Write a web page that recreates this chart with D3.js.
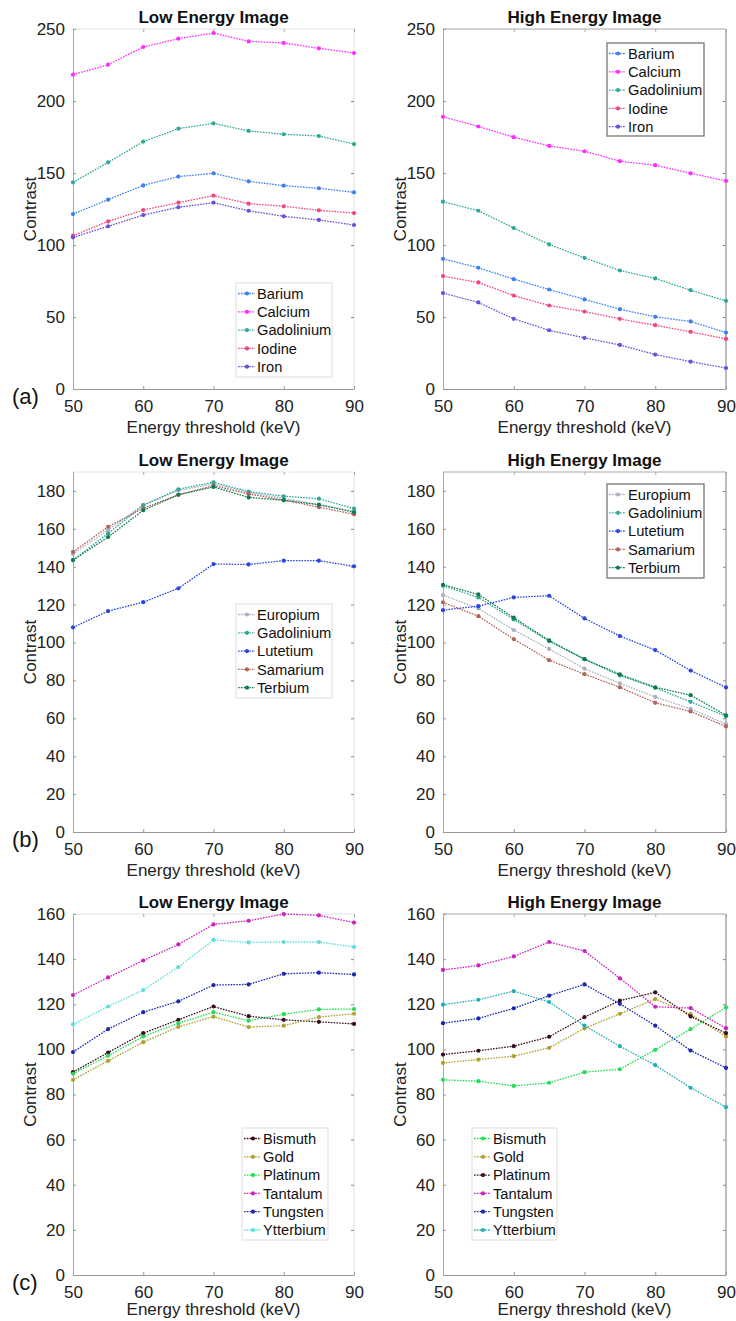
<!DOCTYPE html>
<html>
<head>
<meta charset="utf-8">
<script src="https://cdn.jsdelivr.net/npm/d3@7"></script>
<style>
  body { margin: 0; background: #fff; }
  svg { font-family: "Liberation Sans", Arial, sans-serif; }
  .tick text { font-size: 17px; fill: #222; }
  .title { font-size: 17px; font-weight: bold; fill: #111; }
  .axis-label { font-size: 17px; fill: #222; }
  .legend-label { font-size: 14.7px; fill: #111; }
  .panel-tag { font-size: 22px; fill: #111; }
</style>
</head>
<body>
<div id="chart"></div>
<script>
// Energy thresholds shared by every panel (keV)
const energies = [50, 55, 60, 65, 70, 75, 80, 85, 90];

// (a) contrast agents
const seriesA = ['Barium', 'Calcium', 'Gadolinium', 'Iodine', 'Iron'];
const aLowValues = [
  [121.5, 131.5, 141.4, 147.5, 149.8, 144.2, 141.2, 139.4, 136.6],
  [218.3, 225.2, 237.5, 243.3, 247.2, 241.4, 240.3, 236.6, 233.3],
  [143.5, 157.4, 171.8, 180.8, 184.5, 179.2, 176.9, 175.7, 170.1],
  [106.5, 116.4, 124.3, 129.4, 134.3, 128.7, 126.9, 124.1, 122.2],
  [105.3, 113.0, 120.8, 126.2, 129.4, 123.8, 119.9, 117.4, 113.9]
];
const aHighValues = [
  [90.4, 84.2, 76.3, 69.1, 62.2, 55.4, 50.1, 46.9, 39.2],
  [189.0, 182.3, 174.9, 168.8, 165.1, 158.2, 155.4, 149.8, 144.5],
  [130.1, 123.8, 111.8, 100.4, 91.1, 82.3, 76.8, 68.6, 61.2],
  [78.4, 74.0, 64.9, 58.0, 53.8, 48.7, 44.3, 39.7, 34.8],
  [66.6, 60.1, 48.7, 40.8, 35.5, 30.6, 23.9, 19.0, 14.6]
];

// (b) lanthanides
const seriesB = ['Europium', 'Gadolinium', 'Lutetium', 'Samarium', 'Terbium'];
const bLowValues = [
  [146.7, 159.4, 172.6, 180.2, 183.7, 179.1, 176.1, 172.6, 169.4],
  [143.5, 157.6, 172.4, 180.9, 184.6, 179.6, 177.2, 175.9, 170.7],
  [108.0, 116.6, 121.3, 128.6, 141.4, 141.2, 143.2, 143.2, 140.2],
  [147.8, 161.1, 170.8, 178.0, 182.8, 178.4, 175.2, 171.4, 167.7],
  [143.5, 155.7, 169.8, 178.0, 182.1, 176.6, 175.1, 172.8, 168.7]
];
const bHighValues = [
  [125.0, 118.0, 106.6, 96.6, 86.2, 78.5, 71.3, 65.0, 56.9],
  [130.0, 123.8, 112.2, 100.7, 91.2, 82.6, 76.1, 68.7, 61.1],
  [117.1, 119.2, 123.8, 124.7, 112.7, 103.4, 96.0, 85.2, 76.3],
  [121.2, 113.9, 101.8, 90.7, 83.3, 76.4, 68.2, 63.6, 55.7],
  [130.5, 125.4, 113.1, 101.1, 91.2, 83.2, 76.4, 72.2, 61.6]
];

// (c) heavy elements
const seriesC = ['Bismuth', 'Gold', 'Platinum', 'Tantalum', 'Tungsten', 'Ytterbium'];
const cLowValues = [
  [89.9, 98.6, 107.2, 113.1, 119.0, 114.7, 113.1, 112.2, 111.3],
  [86.5, 94.9, 103.2, 110.0, 114.5, 109.9, 110.5, 114.3, 115.8],
  [89.2, 97.2, 105.7, 111.6, 116.5, 112.7, 115.6, 117.7, 117.9],
  [124.1, 131.9, 139.4, 146.5, 155.4, 157.0, 160.0, 159.4, 156.2],
  [98.8, 109.0, 116.5, 121.3, 128.5, 128.8, 133.5, 134.0, 133.2],
  [111.1, 119.0, 126.3, 136.5, 148.5, 147.4, 147.6, 147.6, 145.4]
];
const cHighValues = [
  [86.5, 85.9, 83.8, 85.2, 89.9, 91.2, 99.8, 109.0, 118.6],
  [94.0, 95.5, 97.0, 100.7, 109.3, 115.8, 122.3, 115.6, 105.7],
  [97.7, 99.4, 101.4, 105.6, 114.3, 121.6, 125.3, 114.6, 107.2],
  [135.2, 137.2, 141.2, 147.6, 143.6, 131.5, 118.9, 118.3, 109.4],
  [111.6, 113.7, 118.2, 123.8, 128.8, 120.2, 110.5, 99.5, 91.8],
  [119.8, 122.0, 125.8, 121.0, 110.5, 101.4, 93.0, 83.0, 74.4]
];

// line colours, one per series (same order as the names)
const colorsA = ['#3b7ff0', '#ff2bff', '#2fa89a', '#f0477a', '#6a4fd8'];
const colorsB = ['#a9b0c2', '#2fa89a', '#2a45e0', '#b0645a', '#0e7a4e'];
const colorsCLow = ['#3a0d1e', '#b0a030', '#22dd55', '#cc22bb', '#1a2ab0', '#5edede'];
const colorsCHigh = ['#22dd55', '#b0a030', '#3a0d1e', '#cc22bb', '#1a2ab0', '#22b0b8'];

const panels = [
  {title: 'Low Energy Image', x0: 73, x1: 354, y0: 29, y1: 389, yMax: 250, yStep: 50,
   names: seriesA, values: aLowValues, colors: colorsA, legend: {x: 236, y: 283, w: 96, h: 94}, tag: '(a)', side: 'left'},
  {title: 'High Energy Image', x0: 443, x1: 726, y0: 29, y1: 389, yMax: 250, yStep: 50,
   names: seriesA, values: aHighValues, colors: colorsA, legend: {x: 607, y: 43, w: 97, h: 93}, side: 'right'},
  {title: 'Low Energy Image', x0: 73, x1: 354, y0: 472, y1: 832, yMax: 190, yStep: 20,
   names: seriesB, values: bLowValues, colors: colorsB, legend: {x: 236, y: 604, w: 96, h: 94}, tag: '(b)', side: 'left'},
  {title: 'High Energy Image', x0: 443, x1: 726, y0: 472, y1: 832, yMax: 190, yStep: 20,
   names: seriesB, values: bHighValues, colors: colorsB, legend: {x: 607, y: 484, w: 97, h: 94}, side: 'right'},
  {title: 'Low Energy Image', x0: 73, x1: 354, y0: 914, y1: 1275, yMax: 160, yStep: 20,
   names: seriesC, values: cLowValues, colors: colorsCLow, legend: {x: 242, y: 1128, w: 86, h: 112}, tag: '(c)', side: 'left'},
  {title: 'High Energy Image', x0: 443, x1: 726, y0: 914, y1: 1275, yMax: 160, yStep: 20,
   names: seriesC, values: cHighValues, colors: colorsCHigh, legend: {x: 472, y: 1128, w: 85, h: 112}, side: 'right'}
];

const svg = d3.select('#chart').append('svg')
  .attr('width', 736)
  .attr('height', 1321);

panels.forEach(p => drawPanel(p));

function drawPanel(p) {
  const x = d3.scaleLinear().domain([50, 90]).range([p.x0, p.x1]);
  const y = d3.scaleLinear().domain([0, p.yMax]).range([p.y1, p.y0]);
  const yTicks = d3.range(0, p.yMax + 0.1, p.yStep);
  const xTicks = [50, 60, 70, 80, 90];
  const g = svg.append('g');

  // box (MATLAB-like), right column drawn a bit darker as in the scan
  const boxColor = p.side === 'right' ? '#a8a8a8' : '#e2e2e2';
  g.append('line').attr('x1', p.x0).attr('x2', p.x1).attr('y1', p.y0).attr('y2', p.y0)
    .attr('stroke', boxColor);
  g.append('line').attr('x1', p.x1).attr('x2', p.x1).attr('y1', p.y0).attr('y2', p.y1)
    .attr('stroke', boxColor).attr('stroke-width', p.side === 'right' ? 1.5 : 1);

  // mirrored inner ticks on top and right
  g.append('g')
    .attr('transform', `translate(0,${p.y0})`)
    .call(d3.axisBottom(x).tickValues(xTicks).tickSize(3).tickFormat(''))
    .call(s => s.select('.domain').remove())
    .selectAll('line').attr('stroke', '#aaa');
  g.append('g')
    .attr('transform', `translate(${p.x1},0)`)
    .call(d3.axisLeft(y).tickValues(yTicks.filter(v => v > 0 && v < p.yMax)).tickSize(3).tickFormat(''))
    .call(s => s.select('.domain').remove())
    .selectAll('line').attr('stroke', '#888');

  // bottom axis
  const xAxis = g.append('g')
    .attr('transform', `translate(0,${p.y1})`)
    .call(d3.axisBottom(x).tickValues(xTicks).tickSizeInner(-3).tickSizeOuter(0).tickPadding(11));
  xAxis.select('.domain').attr('stroke', '#999');
  xAxis.selectAll('.tick line').attr('stroke', '#999');
  xAxis.selectAll('.tick text').style('font-size', '17px').attr('fill', '#222');

  // left axis
  const yAxis = g.append('g')
    .attr('transform', `translate(${p.x0},0)`)
    .call(d3.axisLeft(y).tickValues(yTicks).tickSizeInner(-3).tickSizeOuter(0).tickPadding(8));
  yAxis.select('.domain').attr('stroke', '#aaa');
  yAxis.selectAll('.tick line').attr('stroke', '#999');
  yAxis.selectAll('.tick text').style('font-size', '17px').attr('fill', '#222');

  // titles and labels
  g.append('text').attr('class', 'title')
    .attr('x', (p.x0 + p.x1) / 2).attr('y', p.y0 - 6)
    .attr('text-anchor', 'middle').text(p.title);

  // bottom row label sits at the very edge of the figure, keep it inside
  g.append('text').attr('class', 'axis-label')
    .attr('x', (p.x0 + p.x1) / 2).attr('y', Math.min(p.y1 + 44, 1315))
    .attr('text-anchor', 'middle').text('Energy threshold (keV)');

  g.append('text').attr('class', 'axis-label')
    .attr('transform', `translate(${p.x0 - 37},${(p.y0 + p.y1) / 2}) rotate(-90)`)
    .attr('text-anchor', 'middle').text('Contrast');

  if (p.tag) {
    g.append('text').attr('class', 'panel-tag')
      .attr('x', 12).attr('y', p.y1 + 15).text(p.tag);
  }

  // series
  const line = d3.line()
    .x((d, i) => x(energies[i]))
    .y(d => y(d));

  const series = g.selectAll('.series')
    .data(p.values)
    .join('g')
    .attr('class', 'series');

  series.append('path')
    .attr('d', d => line(d))
    .attr('fill', 'none')
    .attr('stroke', (d, i) => p.colors[i])
    .attr('stroke-width', 1.3)
    .attr('stroke-dasharray', '1.6,1.2');

  series.each(function(d, i) {
    d3.select(this).selectAll('circle')
      .data(d)
      .join('circle')
      .attr('cx', (v, j) => x(energies[j]))
      .attr('cy', v => y(v))
      .attr('r', 2.1)
      .attr('fill', p.colors[i]);
  });

  // legend
  const lg = g.append('g').attr('transform', `translate(${p.legend.x},${p.legend.y})`);
  lg.append('rect')
    .attr('width', p.legend.w).attr('height', p.legend.h)
    .attr('fill', '#fff')
    .attr('stroke', p.side === 'right' && p.names.length < 6 ? '#777' : '#ddd')
    .attr('stroke-width', p.side === 'right' && p.names.length < 6 ? 1.3 : 1);

  const rowH = 18.3;
  const entries = lg.selectAll('.entry')
    .data(p.names)
    .join('g')
    .attr('class', 'entry')
    .attr('transform', (d, i) => `translate(0,${10.5 + i * rowH})`);

  entries.append('line')
    .attr('x1', 2).attr('x2', 19)
    .attr('stroke', (d, i) => p.colors[i])
    .attr('stroke-width', 1.3)
    .attr('stroke-dasharray', '1.6,1.2');
  entries.append('circle')
    .attr('cx', 11).attr('r', 2.1)
    .attr('fill', (d, i) => p.colors[i]);
  entries.append('text')
    .attr('class', 'legend-label')
    .attr('x', 21).attr('dy', '0.35em')
    .text(d => d);
}
</script>
</body>
</html>
